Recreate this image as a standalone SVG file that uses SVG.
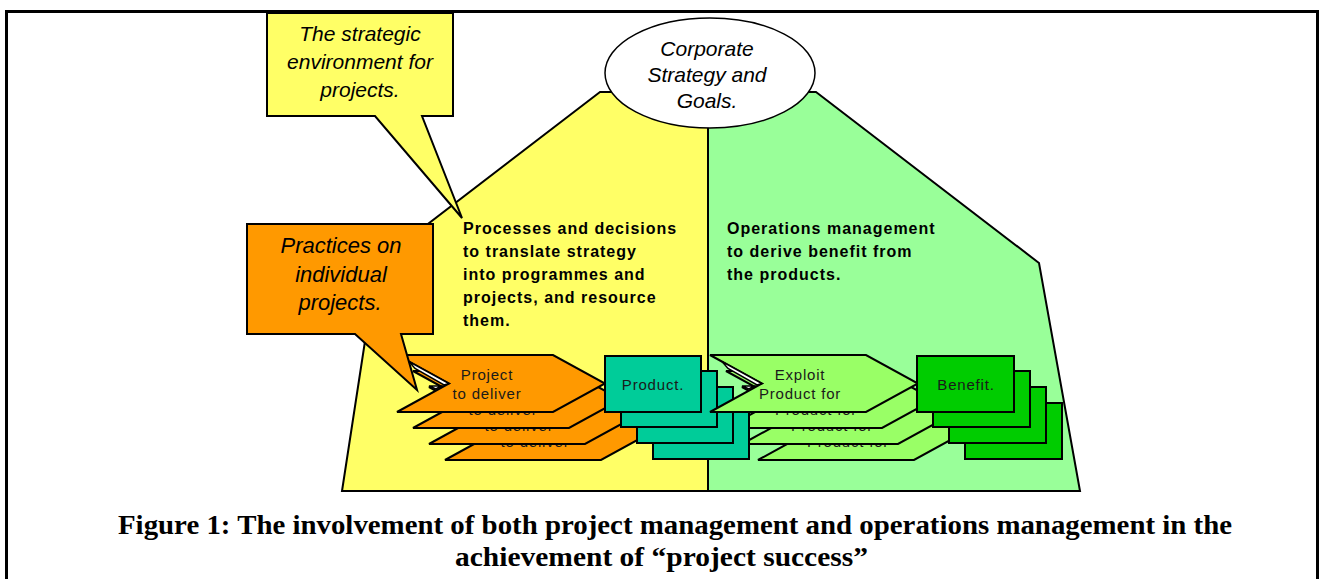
<svg xmlns="http://www.w3.org/2000/svg" xmlns:xlink="http://www.w3.org/1999/xlink" width="1324" height="579" viewBox="0 0 1324 579">
  <style>
    .ln { stroke: #000; stroke-width: 2; stroke-linejoin: miter; }
    .thin { stroke: #000; stroke-width: 1.5; fill: #fff; }
    .yel { fill: #FFFF66; }
    .grn { fill: #99FF99; }
    .org { fill: #FF9900; }
    .teal { fill: #00CC99; }
    .lime { fill: #99FF66; }
    .ben { fill: #00CC00; }
    .call { font-family: "Liberation Sans", Arial, sans-serif; font-style: italic; text-anchor: middle; fill: #000; }
    .body { font-family: "Liberation Sans", Arial, sans-serif; font-weight: bold; font-size: 16px; letter-spacing: 1px; fill: #000; }
    .chv { font-family: "Liberation Sans", Arial, sans-serif; font-size: 15px; letter-spacing: 0.8px; text-anchor: middle; fill: #1a1a1a; }
    .cap { font-family: "Liberation Serif", "Times New Roman", serif; font-weight: bold; font-size: 28px; fill: #000; }
  </style>
  <defs>
    <!-- notched chevron, origin at top-left corner -->
    <path id="chev" d="M0,0 H156 L208,28.5 L156,57 H0 L52,28.5 Z"/>
    <!-- light slivers seen inside the notch of a stack's front chevron -->
    <g id="sliver">
      <path class="thin" d="M12,6.6 L52,28.5 L47,30 L18,13.5 Z"/>
      <path class="thin" d="M32,31 L44,31 L39,34 Z"/>
    </g>
  </defs>

  <rect width="1324" height="579" fill="#fff"/>
  <!-- page frame -->
  <rect x="6.5" y="11.5" width="1311" height="620" fill="none" stroke="#000" stroke-width="3"/>

  <!-- project side / operations side -->
  <g id="project-area">
    <path class="yel ln" d="M600,92 L377,263 L342,491 L708,491 L708,92 Z"/>
    <text class="body" x="463" y="234">Processes and decisions</text>
    <text class="body" x="463" y="257">to translate strategy</text>
    <text class="body" x="463" y="280">into programmes and</text>
    <text class="body" x="463" y="303">projects, and resource</text>
    <text class="body" x="463" y="326">them.</text>
  </g>
  <g id="operations-area">
    <path class="grn ln" d="M816,92 L1039,263 L1080,491 L708,491 L708,92 Z"/>
    <text class="body" x="727" y="234">Operations management</text>
    <text class="body" x="727" y="257">to derive benefit from</text>
    <text class="body" x="727" y="280">the products.</text>
  </g>

  <g id="corporate-strategy">
    <ellipse cx="710" cy="73" rx="105" ry="55" fill="#fff" stroke="#000" stroke-width="1.5"/>
    <text class="call" font-size="21" x="707" y="56">Corporate</text>
    <text class="call" font-size="21" x="707" y="82">Strategy and</text>
    <text class="call" font-size="21" x="707" y="108">Goals.</text>
  </g>

  <!-- project stack -->
  <g id="projects">
    <g transform="translate(445,403)"><use xlink:href="#chev" class="org ln"/><text class="chv" x="90" y="44">to deliver</text></g>
    <g transform="translate(429,387)"><use xlink:href="#chev" class="org ln"/><text class="chv" x="90" y="44">to deliver</text></g>
    <g transform="translate(413,371)"><use xlink:href="#chev" class="org ln"/><text class="chv" x="90" y="44">to deliver</text></g>
    <g transform="translate(397,355)">
      <use xlink:href="#chev" class="org ln"/>
      <use xlink:href="#sliver"/>
      <text class="chv" x="90" y="25">Project</text>
      <text class="chv" x="90" y="44">to deliver</text>
    </g>
  </g>

  <!-- exploitation stack, back members -->
  <g id="exploitation-back">
    <g transform="translate(758,403)"><use xlink:href="#chev" class="lime ln"/><text class="chv" x="90" y="44">Product for</text></g>
    <g transform="translate(742,387)"><use xlink:href="#chev" class="lime ln"/><text class="chv" x="90" y="44">Product for</text></g>
    <g transform="translate(726,371)"><use xlink:href="#chev" class="lime ln"/><text class="chv" x="90" y="44">Product for</text></g>
  </g>

  <g id="products">
    <rect class="teal ln" x="653" y="403" width="96" height="56"/>
    <rect class="teal ln" x="637" y="387" width="96" height="56"/>
    <rect class="teal ln" x="621" y="371" width="96" height="56"/>
    <rect class="teal ln" x="605" y="356" width="96" height="56"/>
    <text class="chv" x="653" y="390">Product.</text>
  </g>

  <g id="exploitation-front" transform="translate(710,355)">
    <use xlink:href="#chev" class="lime ln"/>
    <use xlink:href="#sliver"/>
    <text class="chv" x="90" y="25">Exploit</text>
    <text class="chv" x="90" y="44">Product for</text>
  </g>

  <g id="benefits">
    <rect class="ben ln" x="965" y="403" width="97" height="56"/>
    <rect class="ben ln" x="949" y="387" width="97" height="56"/>
    <rect class="ben ln" x="933" y="371" width="97" height="56"/>
    <rect class="ben ln" x="917" y="356" width="97" height="56"/>
    <text class="chv" x="966" y="390">Benefit.</text>
  </g>

  <!-- callouts -->
  <g id="strategic-callout">
    <path class="yel ln" d="M267,13 H453 V116 H422 L462,218 L375,116 H267 Z"/>
    <text class="call" font-size="21" x="360" y="41">The strategic</text>
    <text class="call" font-size="21" x="360" y="69">environment for</text>
    <text class="call" font-size="21" x="360" y="97">projects.</text>
  </g>
  <g id="practices-callout">
    <path class="org ln" d="M247,224 H433 V334 H401 L417,390 L355,334 H247 Z"/>
    <text class="call" font-size="22" x="341" y="253">Practices on</text>
    <text class="call" font-size="22" x="341" y="282">individual</text>
    <text class="call" font-size="22" x="340" y="310">projects.</text>
  </g>

  <g id="caption">
    <text class="cap" x="118" y="534" textLength="1114" lengthAdjust="spacingAndGlyphs">Figure 1: The involvement of both project management and operations management in the</text>
    <text class="cap" x="455" y="566" textLength="413" lengthAdjust="spacingAndGlyphs">achievement of “project success”</text>
  </g>
</svg>
